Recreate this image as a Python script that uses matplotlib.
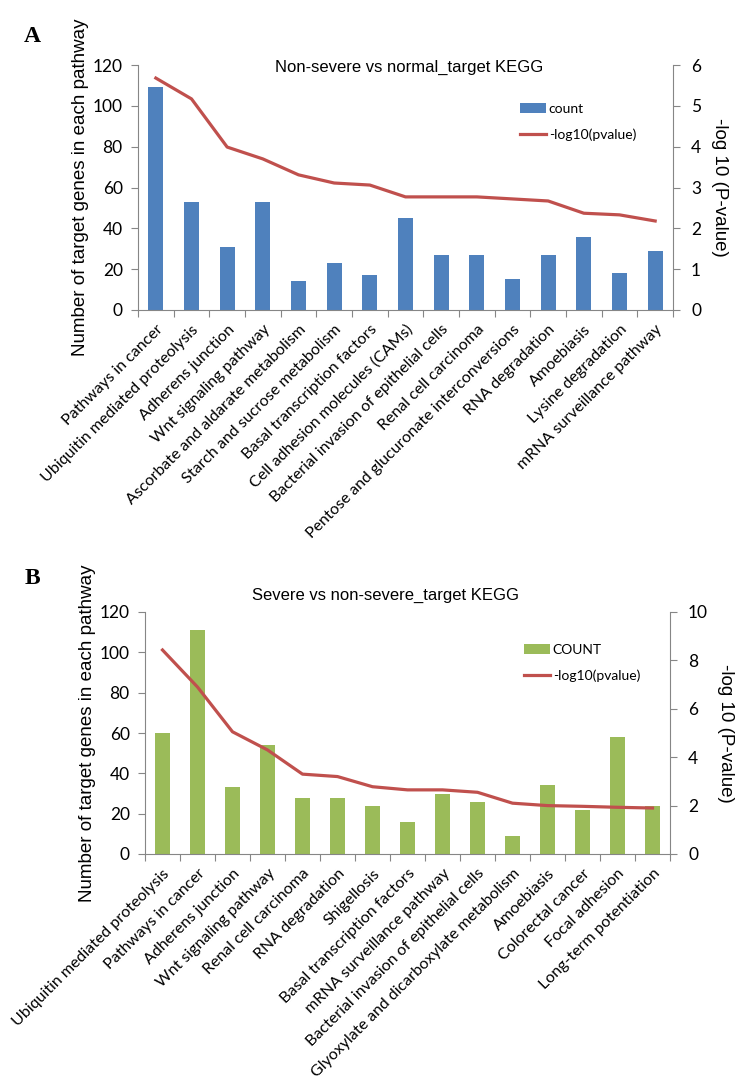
import matplotlib
matplotlib.use("Agg")
import matplotlib.pyplot as plt
import numpy as np
from matplotlib.lines import Line2D
from matplotlib.patches import Patch

# ---- data ----
cats_a = ["Pathways in cancer", "Ubiquitin mediated proteolysis", "Adherens junction",
          "Wnt signaling pathway", "Ascorbate and aldarate metabolism",
          "Starch and sucrose metabolism", "Basal transcription factors",
          "Cell adhesion molecules (CAMs)", "Bacterial invasion of epithelial cells",
          "Renal cell carcinoma", "Pentose and glucuronate interconversions",
          "RNA degradation", "Amoebiasis", "Lysine degradation",
          "mRNA surveillance pathway"]
count_a = [109, 53, 31, 53, 14, 23, 17, 45, 27, 27, 15, 27, 36, 18, 29]
logp_a = [5.68, 5.17, 3.99, 3.70, 3.31, 3.11, 3.06, 2.77, 2.77, 2.77, 2.72, 2.67, 2.37, 2.33, 2.18]

cats_b = ["Ubiquitin mediated proteolysis", "Pathways in cancer", "Adherens junction",
          "Wnt signaling pathway", "Renal cell carcinoma", "RNA degradation",
          "Shigellosis", "Basal transcription factors", "mRNA surveillance pathway",
          "Bacterial invasion of epithelial cells",
          "Glyoxylate and dicarboxylate metabolism", "Amoebiasis", "Colorectal cancer",
          "Focal adhesion", "Long-term potentiation"]
count_b = [60, 111, 33, 54, 28, 28, 24, 16, 30, 26, 9, 34, 22, 58, 24]
logp_b = [8.43, 6.9, 5.05, 4.3, 3.3, 3.2, 2.78, 2.65, 2.65, 2.55, 2.1, 2.0, 1.97, 1.93, 1.9]

BLUE = "#4F81BD"
RED = "#C0504D"
GREEN = "#9BBB59"
GRAY = "#868686"

W, H = 756, 1085
fig = plt.figure(figsize=(W / 100, H / 100), dpi=100)

LBL_FONT = ["Lato", "DejaVu Sans"]
ARIAL = ["Liberation Sans", "DejaVu Sans"]


def panel(rect, cats, counts, logp, color, right_max, right_step, title, title_xy,
          leg_labels, leg_xy, letter, letter_xy):
    ax = fig.add_axes(rect)
    x = np.arange(len(cats))
    ax.bar(x, counts, width=0.42, color=color, zorder=2)
    ax.set_xlim(-0.5, len(cats) - 0.5)
    ax.set_ylim(0, 120)
    ax.set_yticks(range(0, 121, 20))
    ax.set_xticks(np.arange(-0.5, len(cats), 1.0))
    ax.set_xticklabels([])
    ax.set_xticks(x, minor=True)
    ax.set_xticklabels(cats, minor=True, rotation=45, ha="right", va="top",
                       rotation_mode="anchor", fontsize=11.5, family=LBL_FONT)
    ax.tick_params(axis="x", which="minor", length=0, pad=9)
    ax.tick_params(axis="x", which="major", length=5, color=GRAY, direction="out")
    ax.tick_params(axis="y", length=5, color=GRAY, direction="out", labelsize=12.5, pad=6)
    for lab in ax.get_yticklabels():
        lab.set_family(LBL_FONT)
    for s in ["top", "right"]:
        ax.spines[s].set_visible(False)
    for s in ["left", "bottom"]:
        ax.spines[s].set_color(GRAY)
    ax.set_ylabel("Number of target genes in each pathway", fontsize=13.5,
                  family=ARIAL, labelpad=3)

    ax2 = ax.twinx()
    ax2.plot(x, logp, color=RED, lw=2.3, zorder=3)
    ax2.set_ylim(0, right_max)
    ax2.set_yticks(np.arange(0, right_max + 0.01, right_step))
    ax2.tick_params(axis="y", length=5, color=GRAY, direction="out", labelsize=12.5, pad=8)
    for lab in ax2.get_yticklabels():
        lab.set_family(LBL_FONT)
    for s in ["top", "left", "bottom"]:
        ax2.spines[s].set_visible(False)
    ax2.spines["right"].set_color(GRAY)
    ax2.set_ylabel("-log 10 (P-value)", fontsize=13.5, family=ARIAL, rotation=270,
                   labelpad=19)

    fig.text(title_xy[0] / W, 1 - title_xy[1] / H, title, ha="center", va="center",
             fontsize=12, family=ARIAL)
    handles = [Patch(facecolor=color, edgecolor="none"),
               Line2D([0], [0], color=RED, lw=2.3)]
    fig.legend(handles, leg_labels, loc="upper left",
               bbox_to_anchor=(leg_xy[0] / W, 1 - leg_xy[1] / H),
               frameon=False, prop={"family": LBL_FONT, "size": 10},
               handlelength=1.9, handletextpad=0.2, labelspacing=1.0,
               borderaxespad=0)
    fig.text(letter_xy[0] / W, 1 - letter_xy[1] / H, letter, ha="center", va="center",
             fontsize=17, fontweight="bold", family=["Liberation Serif", "DejaVu Serif"])
    return ax, ax2


panel([138 / W, 1 - 310 / H, 535 / W, 245 / H], cats_a, count_a, logp_a, BLUE, 6, 1,
      "Non-severe vs normal_target KEGG", (409, 67), ["count", "-log10(pvalue)"],
      (514, 97), "A", (32, 37))

panel([145 / W, 1 - 854 / H, 525 / W, 242 / H], cats_b, count_b, logp_b, GREEN, 10, 2,
      "Severe vs non-severe_target KEGG", (386, 595), ["COUNT", "-log10(pvalue)"],
      (518, 638), "B", (32, 578))

fig.savefig("out.png", dpi=100)
